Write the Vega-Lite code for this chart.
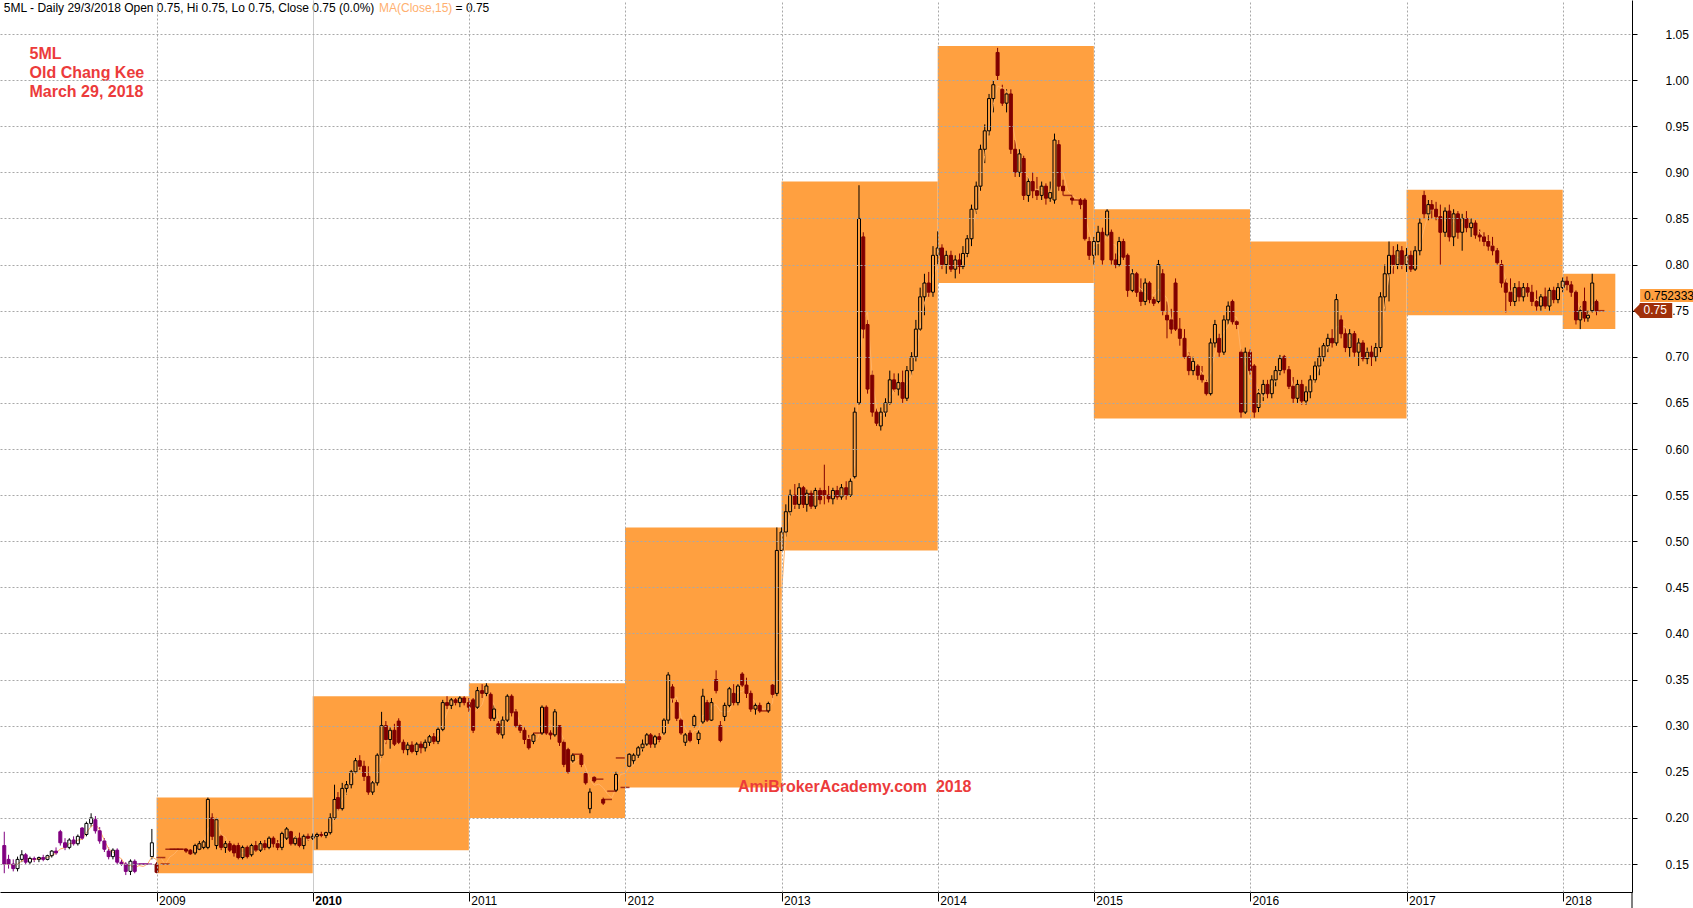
{
"$schema": "https://vega.github.io/schema/vega-lite/v6.json",
"width": 1632, "height": 892,
"autosize": {"type": "none"},
"padding": {"left": 0, "top": 0, "right": 61, "bottom": 16},
"background": "#ffffff",
"config": {"view": {"stroke": null}, "font": "Liberation Sans",
  "axis": {"labelFont": "Liberation Sans", "labelFontSize": 12, "labelColor": "#000000", "domainColor": "#000000", "tickColor": "#000000", "gridColor": "#A8A8A8", "gridDash": [2, 2]}},
"datasets": {
"boxes": [
{"d":"2009-01-01","d2":"2010-01-01","lo":0.14,"hi":0.222},
{"d":"2010-01-01","d2":"2011-01-01","lo":0.165,"hi":0.332},
{"d":"2011-01-01","d2":"2012-01-01","lo":0.2,"hi":0.346},
{"d":"2012-01-01","d2":"2013-01-01","lo":0.233,"hi":0.515},
{"d":"2013-01-01","d2":"2014-01-01","lo":0.49,"hi":0.89},
{"d":"2014-01-01","d2":"2015-01-01","lo":0.78,"hi":1.037},
{"d":"2015-01-01","d2":"2016-01-01","lo":0.633,"hi":0.86},
{"d":"2016-01-01","d2":"2017-01-01","lo":0.633,"hi":0.825},
{"d":"2017-01-01","d2":"2018-01-01","lo":0.745,"hi":0.881},
{"d":"2018-01-01","d2":"2018-05-04","lo":0.73,"hi":0.79}
],
"px": [
{"d":"2008-01-11","o":0.17,"h":0.185,"l":0.14,"c":0.15},
{"d":"2008-01-21","o":0.155,"h":0.16,"l":0.145,"c":0.15},
{"d":"2008-02-01","o":0.15,"h":0.155,"l":0.142,"c":0.145},
{"d":"2008-02-11","o":0.145,"h":0.158,"l":0.142,"c":0.155},
{"d":"2008-02-21","o":0.155,"h":0.165,"l":0.152,"c":0.16},
{"d":"2008-03-01","o":0.16,"h":0.162,"l":0.15,"c":0.152},
{"d":"2008-03-11","o":0.152,"h":0.158,"l":0.15,"c":0.156},
{"d":"2008-03-21","o":0.156,"h":0.158,"l":0.152,"c":0.155},
{"d":"2008-04-01","o":0.155,"h":0.158,"l":0.152,"c":0.157},
{"d":"2008-04-11","o":0.157,"h":0.16,"l":0.153,"c":0.155},
{"d":"2008-04-21","o":0.155,"h":0.16,"l":0.154,"c":0.159},
{"d":"2008-05-01","o":0.159,"h":0.165,"l":0.157,"c":0.164},
{"d":"2008-05-11","o":0.164,"h":0.168,"l":0.16,"c":0.162},
{"d":"2008-05-21","o":0.185,"h":0.187,"l":0.17,"c":0.173},
{"d":"2008-06-01","o":0.173,"h":0.178,"l":0.165,"c":0.168},
{"d":"2008-06-11","o":0.168,"h":0.178,"l":0.166,"c":0.176},
{"d":"2008-06-21","o":0.176,"h":0.18,"l":0.17,"c":0.172},
{"d":"2008-07-01","o":0.172,"h":0.182,"l":0.17,"c":0.18},
{"d":"2008-07-11","o":0.189,"h":0.19,"l":0.176,"c":0.178},
{"d":"2008-07-21","o":0.182,"h":0.196,"l":0.18,"c":0.194},
{"d":"2008-08-01","o":0.194,"h":0.205,"l":0.19,"c":0.2},
{"d":"2008-08-11","o":0.198,"h":0.202,"l":0.183,"c":0.186},
{"d":"2008-08-21","o":0.186,"h":0.19,"l":0.172,"c":0.175},
{"d":"2008-09-01","o":0.175,"h":0.178,"l":0.163,"c":0.166},
{"d":"2008-09-11","o":0.164,"h":0.168,"l":0.155,"c":0.158},
{"d":"2008-09-21","o":0.158,"h":0.167,"l":0.155,"c":0.165},
{"d":"2008-10-01","o":0.165,"h":0.167,"l":0.15,"c":0.152},
{"d":"2008-10-11","o":0.152,"h":0.155,"l":0.148,"c":0.15},
{"d":"2008-10-21","o":0.15,"h":0.152,"l":0.138,"c":0.142},
{"d":"2008-11-01","o":0.142,"h":0.155,"l":0.138,"c":0.153},
{"d":"2008-11-11","o":0.153,"h":0.155,"l":0.14,"c":0.142},
{"d":"2008-11-21","o":0.15,"h":0.15,"l":0.15,"c":0.15},
{"d":"2008-12-01","o":0.15,"h":0.15,"l":0.15,"c":0.15},
{"d":"2008-12-11","o":0.15,"h":0.15,"l":0.15,"c":0.15},
{"d":"2008-12-21","o":0.158,"h":0.188,"l":0.155,"c":0.173},
{"d":"2009-01-01","o":0.15,"h":0.152,"l":0.14,"c":0.141},
{"d":"2009-01-11","o":0.157,"h":0.157,"l":0.157,"c":0.157},
{"d":"2009-01-21","o":0.15,"h":0.15,"l":0.15,"c":0.15},
{"d":"2009-02-01","o":0.166,"h":0.166,"l":0.166,"c":0.166},
{"d":"2009-02-11","o":0.166,"h":0.166,"l":0.166,"c":0.166},
{"d":"2009-02-21","o":0.166,"h":0.166,"l":0.166,"c":0.166},
{"d":"2009-03-01","o":0.166,"h":0.166,"l":0.166,"c":0.166},
{"d":"2009-03-11","o":0.166,"h":0.167,"l":0.162,"c":0.164},
{"d":"2009-03-21","o":0.165,"h":0.166,"l":0.16,"c":0.161},
{"d":"2009-04-01","o":0.162,"h":0.172,"l":0.16,"c":0.17},
{"d":"2009-04-11","o":0.166,"h":0.175,"l":0.165,"c":0.172},
{"d":"2009-04-21","o":0.168,"h":0.176,"l":0.166,"c":0.174},
{"d":"2009-05-01","o":0.168,"h":0.222,"l":0.166,"c":0.22},
{"d":"2009-05-11","o":0.2,"h":0.205,"l":0.176,"c":0.18},
{"d":"2009-05-21","o":0.17,"h":0.2,"l":0.166,"c":0.198},
{"d":"2009-06-01","o":0.18,"h":0.182,"l":0.165,"c":0.168},
{"d":"2009-06-11","o":0.168,"h":0.175,"l":0.162,"c":0.172},
{"d":"2009-06-21","o":0.172,"h":0.175,"l":0.163,"c":0.165},
{"d":"2009-07-01","o":0.17,"h":0.172,"l":0.158,"c":0.162},
{"d":"2009-07-11","o":0.17,"h":0.173,"l":0.155,"c":0.157},
{"d":"2009-07-21","o":0.157,"h":0.17,"l":0.155,"c":0.168},
{"d":"2009-08-01","o":0.168,"h":0.17,"l":0.156,"c":0.158},
{"d":"2009-08-11","o":0.16,"h":0.172,"l":0.158,"c":0.17},
{"d":"2009-08-21","o":0.17,"h":0.175,"l":0.163,"c":0.165},
{"d":"2009-09-01","o":0.165,"h":0.175,"l":0.163,"c":0.172},
{"d":"2009-09-11","o":0.172,"h":0.176,"l":0.165,"c":0.168},
{"d":"2009-09-21","o":0.168,"h":0.18,"l":0.166,"c":0.178},
{"d":"2009-10-01","o":0.178,"h":0.18,"l":0.168,"c":0.172},
{"d":"2009-10-11","o":0.172,"h":0.176,"l":0.165,"c":0.168},
{"d":"2009-10-21","o":0.168,"h":0.185,"l":0.165,"c":0.183},
{"d":"2009-11-01","o":0.178,"h":0.19,"l":0.176,"c":0.188},
{"d":"2009-11-11","o":0.185,"h":0.186,"l":0.17,"c":0.172},
{"d":"2009-11-21","o":0.172,"h":0.18,"l":0.17,"c":0.178},
{"d":"2009-12-01","o":0.178,"h":0.184,"l":0.168,"c":0.17},
{"d":"2009-12-11","o":0.17,"h":0.182,"l":0.166,"c":0.18},
{"d":"2009-12-21","o":0.18,"h":0.183,"l":0.175,"c":0.178},
{"d":"2010-01-01","o":0.178,"h":0.183,"l":0.176,"c":0.18},
{"d":"2010-01-11","o":0.18,"h":0.184,"l":0.166,"c":0.182},
{"d":"2010-01-21","o":0.182,"h":0.185,"l":0.179,"c":0.181},
{"d":"2010-02-01","o":0.181,"h":0.185,"l":0.178,"c":0.184},
{"d":"2010-02-11","o":0.184,"h":0.205,"l":0.182,"c":0.2},
{"d":"2010-02-21","o":0.2,"h":0.236,"l":0.198,"c":0.22},
{"d":"2010-03-01","o":0.222,"h":0.228,"l":0.208,"c":0.21},
{"d":"2010-03-11","o":0.21,"h":0.238,"l":0.208,"c":0.232},
{"d":"2010-03-21","o":0.232,"h":0.24,"l":0.225,"c":0.236},
{"d":"2010-04-01","o":0.236,"h":0.252,"l":0.232,"c":0.25},
{"d":"2010-04-11","o":0.25,"h":0.265,"l":0.248,"c":0.262},
{"d":"2010-04-21","o":0.262,"h":0.268,"l":0.252,"c":0.256},
{"d":"2010-05-01","o":0.256,"h":0.262,"l":0.24,"c":0.245},
{"d":"2010-05-11","o":0.245,"h":0.256,"l":0.225,"c":0.228},
{"d":"2010-05-21","o":0.228,"h":0.24,"l":0.225,"c":0.238},
{"d":"2010-06-01","o":0.238,"h":0.27,"l":0.235,"c":0.268},
{"d":"2010-06-11","o":0.268,"h":0.315,"l":0.265,"c":0.3},
{"d":"2010-06-21","o":0.3,"h":0.305,"l":0.28,"c":0.285},
{"d":"2010-07-01","o":0.285,"h":0.298,"l":0.275,"c":0.295},
{"d":"2010-07-11","o":0.295,"h":0.302,"l":0.278,"c":0.28},
{"d":"2010-07-21","o":0.305,"h":0.308,"l":0.28,"c":0.282},
{"d":"2010-08-01","o":0.282,"h":0.285,"l":0.27,"c":0.274},
{"d":"2010-08-11","o":0.274,"h":0.282,"l":0.268,"c":0.279},
{"d":"2010-08-21","o":0.279,"h":0.283,"l":0.27,"c":0.272},
{"d":"2010-09-01","o":0.272,"h":0.282,"l":0.268,"c":0.28},
{"d":"2010-09-11","o":0.28,"h":0.283,"l":0.27,"c":0.276},
{"d":"2010-09-21","o":0.276,"h":0.285,"l":0.272,"c":0.282},
{"d":"2010-10-01","o":0.282,"h":0.29,"l":0.278,"c":0.288},
{"d":"2010-10-11","o":0.288,"h":0.292,"l":0.28,"c":0.283},
{"d":"2010-10-21","o":0.283,"h":0.298,"l":0.28,"c":0.296},
{"d":"2010-11-01","o":0.296,"h":0.328,"l":0.294,"c":0.325},
{"d":"2010-11-11","o":0.325,"h":0.332,"l":0.318,"c":0.322},
{"d":"2010-11-21","o":0.322,"h":0.33,"l":0.318,"c":0.328},
{"d":"2010-12-01","o":0.328,"h":0.33,"l":0.322,"c":0.325},
{"d":"2010-12-11","o":0.325,"h":0.332,"l":0.32,"c":0.33},
{"d":"2010-12-21","o":0.33,"h":0.332,"l":0.322,"c":0.325},
{"d":"2011-01-01","o":0.325,"h":0.33,"l":0.315,"c":0.32},
{"d":"2011-01-11","o":0.328,"h":0.33,"l":0.292,"c":0.295},
{"d":"2011-01-21","o":0.32,"h":0.342,"l":0.318,"c":0.338},
{"d":"2011-02-01","o":0.338,"h":0.345,"l":0.33,"c":0.335},
{"d":"2011-02-11","o":0.335,"h":0.346,"l":0.332,"c":0.343},
{"d":"2011-02-21","o":0.334,"h":0.336,"l":0.305,"c":0.308},
{"d":"2011-03-01","o":0.308,"h":0.322,"l":0.305,"c":0.318},
{"d":"2011-03-11","o":0.302,"h":0.305,"l":0.29,"c":0.292},
{"d":"2011-03-21","o":0.29,"h":0.31,"l":0.286,"c":0.306},
{"d":"2011-04-01","o":0.306,"h":0.334,"l":0.304,"c":0.332},
{"d":"2011-04-11","o":0.332,"h":0.334,"l":0.31,"c":0.314},
{"d":"2011-04-21","o":0.315,"h":0.318,"l":0.298,"c":0.3},
{"d":"2011-05-01","o":0.3,"h":0.302,"l":0.292,"c":0.295},
{"d":"2011-05-11","o":0.295,"h":0.298,"l":0.28,"c":0.285},
{"d":"2011-05-21","o":0.285,"h":0.29,"l":0.274,"c":0.276},
{"d":"2011-06-01","o":0.283,"h":0.292,"l":0.28,"c":0.29},
{"d":"2011-06-11","o":0.292,"h":0.292,"l":0.292,"c":0.292},
{"d":"2011-06-21","o":0.292,"h":0.322,"l":0.29,"c":0.32},
{"d":"2011-07-01","o":0.32,"h":0.322,"l":0.29,"c":0.292},
{"d":"2011-07-11","o":0.292,"h":0.295,"l":0.285,"c":0.29},
{"d":"2011-07-21","o":0.29,"h":0.318,"l":0.288,"c":0.315},
{"d":"2011-08-01","o":0.3,"h":0.3,"l":0.278,"c":0.282},
{"d":"2011-08-11","o":0.282,"h":0.285,"l":0.255,"c":0.258},
{"d":"2011-08-21","o":0.274,"h":0.276,"l":0.248,"c":0.25},
{"d":"2011-09-01","o":0.262,"h":0.27,"l":0.26,"c":0.268},
{"d":"2011-09-11","o":0.269,"h":0.269,"l":0.269,"c":0.269},
{"d":"2011-09-21","o":0.268,"h":0.27,"l":0.255,"c":0.258},
{"d":"2011-10-01","o":0.248,"h":0.25,"l":0.236,"c":0.238},
{"d":"2011-10-11","o":0.21,"h":0.232,"l":0.205,"c":0.228},
{"d":"2011-10-21","o":0.244,"h":0.245,"l":0.238,"c":0.24},
{"d":"2011-11-01","o":0.242,"h":0.242,"l":0.242,"c":0.242},
{"d":"2011-11-11","o":0.22,"h":0.222,"l":0.214,"c":0.216},
{"d":"2011-11-21","o":0.22,"h":0.22,"l":0.22,"c":0.22},
{"d":"2011-12-01","o":0.229,"h":0.229,"l":0.229,"c":0.229},
{"d":"2011-12-11","o":0.23,"h":0.25,"l":0.228,"c":0.247},
{"d":"2011-12-21","o":0.265,"h":0.265,"l":0.265,"c":0.265},
{"d":"2012-01-01","o":0.233,"h":0.233,"l":0.233,"c":0.233},
{"d":"2012-01-11","o":0.256,"h":0.27,"l":0.255,"c":0.269},
{"d":"2012-01-21","o":0.262,"h":0.27,"l":0.258,"c":0.268},
{"d":"2012-02-01","o":0.268,"h":0.278,"l":0.265,"c":0.276},
{"d":"2012-02-11","o":0.276,"h":0.285,"l":0.272,"c":0.28},
{"d":"2012-02-21","o":0.28,"h":0.292,"l":0.278,"c":0.29},
{"d":"2012-03-01","o":0.29,"h":0.292,"l":0.276,"c":0.28},
{"d":"2012-03-11","o":0.28,"h":0.29,"l":0.276,"c":0.288},
{"d":"2012-03-21","o":0.288,"h":0.292,"l":0.282,"c":0.285},
{"d":"2012-04-01","o":0.292,"h":0.308,"l":0.29,"c":0.306},
{"d":"2012-04-11","o":0.306,"h":0.358,"l":0.302,"c":0.355},
{"d":"2012-04-21","o":0.342,"h":0.345,"l":0.325,"c":0.33},
{"d":"2012-05-01","o":0.325,"h":0.328,"l":0.305,"c":0.308},
{"d":"2012-05-11","o":0.306,"h":0.308,"l":0.29,"c":0.292},
{"d":"2012-05-21","o":0.282,"h":0.292,"l":0.278,"c":0.29},
{"d":"2012-06-01","o":0.292,"h":0.295,"l":0.282,"c":0.284},
{"d":"2012-06-11","o":0.3,"h":0.312,"l":0.298,"c":0.31},
{"d":"2012-06-21","o":0.285,"h":0.295,"l":0.28,"c":0.292},
{"d":"2012-07-01","o":0.304,"h":0.34,"l":0.302,"c":0.332},
{"d":"2012-07-11","o":0.325,"h":0.328,"l":0.304,"c":0.306},
{"d":"2012-07-21","o":0.306,"h":0.33,"l":0.305,"c":0.325},
{"d":"2012-08-01","o":0.35,"h":0.36,"l":0.335,"c":0.338},
{"d":"2012-08-11","o":0.3,"h":0.305,"l":0.282,"c":0.284},
{"d":"2012-08-21","o":0.31,"h":0.325,"l":0.305,"c":0.322},
{"d":"2012-09-01","o":0.322,"h":0.342,"l":0.32,"c":0.34},
{"d":"2012-09-11","o":0.335,"h":0.345,"l":0.322,"c":0.325},
{"d":"2012-09-21","o":0.325,"h":0.345,"l":0.322,"c":0.343},
{"d":"2012-10-01","o":0.356,"h":0.358,"l":0.342,"c":0.344},
{"d":"2012-10-11","o":0.344,"h":0.352,"l":0.33,"c":0.335},
{"d":"2012-10-21","o":0.335,"h":0.338,"l":0.315,"c":0.318},
{"d":"2012-11-01","o":0.318,"h":0.325,"l":0.312,"c":0.322},
{"d":"2012-11-11","o":0.322,"h":0.325,"l":0.314,"c":0.316},
{"d":"2012-11-21","o":0.316,"h":0.316,"l":0.316,"c":0.316},
{"d":"2012-12-01","o":0.316,"h":0.326,"l":0.314,"c":0.324},
{"d":"2012-12-11","o":0.344,"h":0.345,"l":0.33,"c":0.334},
{"d":"2012-12-21","o":0.335,"h":0.515,"l":0.332,"c":0.49},
{"d":"2013-01-01","o":0.49,"h":0.515,"l":0.49,"c":0.51},
{"d":"2013-01-11","o":0.51,"h":0.54,"l":0.505,"c":0.532},
{"d":"2013-01-21","o":0.532,"h":0.556,"l":0.528,"c":0.55},
{"d":"2013-02-01","o":0.55,"h":0.562,"l":0.535,"c":0.54},
{"d":"2013-02-11","o":0.54,"h":0.563,"l":0.535,"c":0.558},
{"d":"2013-02-21","o":0.558,"h":0.56,"l":0.536,"c":0.54},
{"d":"2013-03-01","o":0.54,"h":0.556,"l":0.532,"c":0.552},
{"d":"2013-03-11","o":0.552,"h":0.555,"l":0.535,"c":0.538},
{"d":"2013-03-21","o":0.538,"h":0.558,"l":0.535,"c":0.555},
{"d":"2013-04-01","o":0.555,"h":0.558,"l":0.54,"c":0.545},
{"d":"2013-04-11","o":0.555,"h":0.583,"l":0.54,"c":0.55},
{"d":"2013-04-21","o":0.55,"h":0.56,"l":0.542,"c":0.546},
{"d":"2013-05-01","o":0.546,"h":0.558,"l":0.54,"c":0.555},
{"d":"2013-05-11","o":0.555,"h":0.56,"l":0.545,"c":0.548},
{"d":"2013-05-21","o":0.548,"h":0.562,"l":0.545,"c":0.558},
{"d":"2013-06-01","o":0.558,"h":0.565,"l":0.545,"c":0.55},
{"d":"2013-06-11","o":0.55,"h":0.568,"l":0.548,"c":0.565},
{"d":"2013-06-21","o":0.57,"h":0.645,"l":0.568,"c":0.64},
{"d":"2013-07-01","o":0.65,"h":0.886,"l":0.648,"c":0.85},
{"d":"2013-07-11","o":0.83,"h":0.835,"l":0.72,"c":0.73},
{"d":"2013-07-21","o":0.735,"h":0.74,"l":0.66,"c":0.665},
{"d":"2013-08-01","o":0.68,"h":0.685,"l":0.635,"c":0.64},
{"d":"2013-08-11","o":0.64,"h":0.645,"l":0.625,"c":0.628},
{"d":"2013-08-21","o":0.625,"h":0.645,"l":0.62,"c":0.64},
{"d":"2013-09-01","o":0.64,"h":0.655,"l":0.635,"c":0.65},
{"d":"2013-09-11","o":0.65,"h":0.685,"l":0.648,"c":0.675},
{"d":"2013-09-21","o":0.675,"h":0.682,"l":0.662,"c":0.665},
{"d":"2013-10-01","o":0.665,"h":0.682,"l":0.658,"c":0.672},
{"d":"2013-10-11","o":0.672,"h":0.685,"l":0.65,"c":0.655},
{"d":"2013-10-21","o":0.655,"h":0.69,"l":0.652,"c":0.685},
{"d":"2013-11-01","o":0.685,"h":0.705,"l":0.68,"c":0.7},
{"d":"2013-11-11","o":0.7,"h":0.74,"l":0.695,"c":0.73},
{"d":"2013-11-21","o":0.73,"h":0.775,"l":0.728,"c":0.765},
{"d":"2013-12-01","o":0.765,"h":0.79,"l":0.745,"c":0.78},
{"d":"2013-12-11","o":0.78,"h":0.792,"l":0.765,"c":0.77},
{"d":"2013-12-21","o":0.77,"h":0.82,"l":0.765,"c":0.81},
{"d":"2014-01-01","o":0.81,"h":0.836,"l":0.8,"c":0.818},
{"d":"2014-01-11","o":0.818,"h":0.822,"l":0.795,"c":0.8},
{"d":"2014-01-21","o":0.8,"h":0.815,"l":0.79,"c":0.81},
{"d":"2014-02-01","o":0.81,"h":0.815,"l":0.792,"c":0.795},
{"d":"2014-02-11","o":0.795,"h":0.81,"l":0.785,"c":0.805},
{"d":"2014-02-21","o":0.805,"h":0.812,"l":0.79,"c":0.798},
{"d":"2014-03-01","o":0.798,"h":0.82,"l":0.795,"c":0.812},
{"d":"2014-03-11","o":0.812,"h":0.832,"l":0.808,"c":0.828},
{"d":"2014-03-21","o":0.828,"h":0.865,"l":0.82,"c":0.86},
{"d":"2014-04-01","o":0.86,"h":0.89,"l":0.855,"c":0.885},
{"d":"2014-04-11","o":0.885,"h":0.93,"l":0.88,"c":0.925},
{"d":"2014-04-21","o":0.925,"h":0.952,"l":0.91,"c":0.945},
{"d":"2014-05-01","o":0.945,"h":0.985,"l":0.94,"c":0.98},
{"d":"2014-05-11","o":0.98,"h":1.0,"l":0.965,"c":0.995},
{"d":"2014-05-21","o":1.03,"h":1.035,"l":1.0,"c":1.005},
{"d":"2014-06-01","o":0.99,"h":0.995,"l":0.972,"c":0.975},
{"d":"2014-06-11","o":0.975,"h":0.99,"l":0.965,"c":0.985},
{"d":"2014-06-21","o":0.985,"h":0.99,"l":0.92,"c":0.925},
{"d":"2014-07-01","o":0.925,"h":0.935,"l":0.895,"c":0.9},
{"d":"2014-07-11","o":0.9,"h":0.925,"l":0.895,"c":0.92},
{"d":"2014-07-21","o":0.915,"h":0.918,"l":0.87,"c":0.875},
{"d":"2014-08-01","o":0.875,"h":0.895,"l":0.868,"c":0.89},
{"d":"2014-08-11","o":0.89,"h":0.9,"l":0.872,"c":0.88},
{"d":"2014-08-21","o":0.88,"h":0.895,"l":0.87,"c":0.875},
{"d":"2014-09-01","o":0.875,"h":0.89,"l":0.87,"c":0.885},
{"d":"2014-09-11","o":0.885,"h":0.888,"l":0.865,"c":0.872},
{"d":"2014-09-21","o":0.872,"h":0.89,"l":0.868,"c":0.878},
{"d":"2014-10-01","o":0.87,"h":0.942,"l":0.866,"c":0.935},
{"d":"2014-10-11","o":0.93,"h":0.935,"l":0.88,"c":0.885},
{"d":"2014-10-21","o":0.885,"h":0.892,"l":0.875,"c":0.88},
{"d":"2014-11-01","o":0.875,"h":0.875,"l":0.875,"c":0.875},
{"d":"2014-11-11","o":0.872,"h":0.875,"l":0.865,"c":0.87},
{"d":"2014-11-21","o":0.87,"h":0.87,"l":0.87,"c":0.87},
{"d":"2014-12-01","o":0.87,"h":0.872,"l":0.86,"c":0.865},
{"d":"2014-12-11","o":0.87,"h":0.872,"l":0.826,"c":0.828},
{"d":"2014-12-21","o":0.825,"h":0.83,"l":0.805,"c":0.81},
{"d":"2015-01-01","o":0.81,"h":0.83,"l":0.8,"c":0.825},
{"d":"2015-01-11","o":0.825,"h":0.842,"l":0.81,"c":0.835},
{"d":"2015-01-21","o":0.835,"h":0.84,"l":0.8,"c":0.805},
{"d":"2015-02-01","o":0.832,"h":0.86,"l":0.83,"c":0.858},
{"d":"2015-02-11","o":0.835,"h":0.838,"l":0.8,"c":0.805},
{"d":"2015-02-21","o":0.805,"h":0.812,"l":0.796,"c":0.8},
{"d":"2015-03-01","o":0.8,"h":0.83,"l":0.798,"c":0.825},
{"d":"2015-03-11","o":0.825,"h":0.828,"l":0.805,"c":0.808},
{"d":"2015-03-21","o":0.81,"h":0.812,"l":0.765,"c":0.772},
{"d":"2015-04-01","o":0.772,"h":0.795,"l":0.77,"c":0.79},
{"d":"2015-04-11","o":0.79,"h":0.792,"l":0.765,"c":0.77},
{"d":"2015-04-21","o":0.77,"h":0.785,"l":0.755,"c":0.76},
{"d":"2015-05-01","o":0.76,"h":0.785,"l":0.756,"c":0.78},
{"d":"2015-05-11","o":0.78,"h":0.782,"l":0.758,"c":0.762},
{"d":"2015-05-21","o":0.762,"h":0.765,"l":0.755,"c":0.758},
{"d":"2015-06-01","o":0.76,"h":0.805,"l":0.758,"c":0.8},
{"d":"2015-06-11","o":0.79,"h":0.795,"l":0.745,"c":0.75},
{"d":"2015-06-21","o":0.745,"h":0.76,"l":0.72,"c":0.74},
{"d":"2015-07-01","o":0.74,"h":0.752,"l":0.725,"c":0.73},
{"d":"2015-07-11","o":0.78,"h":0.785,"l":0.728,"c":0.73},
{"d":"2015-07-21","o":0.73,"h":0.742,"l":0.712,"c":0.72},
{"d":"2015-08-01","o":0.72,"h":0.73,"l":0.698,"c":0.7},
{"d":"2015-08-11","o":0.7,"h":0.705,"l":0.68,"c":0.685},
{"d":"2015-08-21","o":0.685,"h":0.7,"l":0.68,"c":0.695},
{"d":"2015-09-01","o":0.69,"h":0.692,"l":0.675,"c":0.68},
{"d":"2015-09-11","o":0.68,"h":0.69,"l":0.672,"c":0.675},
{"d":"2015-09-21","o":0.672,"h":0.675,"l":0.658,"c":0.66},
{"d":"2015-10-01","o":0.66,"h":0.72,"l":0.658,"c":0.715},
{"d":"2015-10-11","o":0.715,"h":0.74,"l":0.71,"c":0.735},
{"d":"2015-10-21","o":0.72,"h":0.725,"l":0.7,"c":0.705},
{"d":"2015-11-01","o":0.705,"h":0.745,"l":0.702,"c":0.74},
{"d":"2015-11-11","o":0.74,"h":0.76,"l":0.735,"c":0.755},
{"d":"2015-11-21","o":0.76,"h":0.762,"l":0.735,"c":0.738},
{"d":"2015-12-01","o":0.738,"h":0.74,"l":0.73,"c":0.735},
{"d":"2015-12-11","o":0.705,"h":0.708,"l":0.634,"c":0.64},
{"d":"2015-12-21","o":0.64,"h":0.71,"l":0.638,"c":0.705},
{"d":"2016-01-01","o":0.705,"h":0.708,"l":0.68,"c":0.685},
{"d":"2016-01-11","o":0.69,"h":0.692,"l":0.634,"c":0.64},
{"d":"2016-01-21","o":0.645,"h":0.665,"l":0.64,"c":0.66},
{"d":"2016-02-01","o":0.66,"h":0.675,"l":0.652,"c":0.67},
{"d":"2016-02-11","o":0.67,"h":0.675,"l":0.655,"c":0.66},
{"d":"2016-02-21","o":0.66,"h":0.68,"l":0.655,"c":0.675},
{"d":"2016-03-01","o":0.675,"h":0.69,"l":0.668,"c":0.685},
{"d":"2016-03-11","o":0.685,"h":0.702,"l":0.68,"c":0.698},
{"d":"2016-03-21","o":0.7,"h":0.702,"l":0.682,"c":0.686},
{"d":"2016-04-01","o":0.686,"h":0.69,"l":0.665,"c":0.668},
{"d":"2016-04-11","o":0.668,"h":0.678,"l":0.65,"c":0.655},
{"d":"2016-04-21","o":0.655,"h":0.675,"l":0.65,"c":0.67},
{"d":"2016-05-01","o":0.67,"h":0.675,"l":0.648,"c":0.652},
{"d":"2016-05-11","o":0.652,"h":0.668,"l":0.648,"c":0.662},
{"d":"2016-05-21","o":0.662,"h":0.68,"l":0.655,"c":0.675},
{"d":"2016-06-01","o":0.675,"h":0.695,"l":0.672,"c":0.69},
{"d":"2016-06-11","o":0.69,"h":0.71,"l":0.68,"c":0.7},
{"d":"2016-06-21","o":0.7,"h":0.715,"l":0.695,"c":0.712},
{"d":"2016-07-01","o":0.712,"h":0.725,"l":0.705,"c":0.72},
{"d":"2016-07-11","o":0.72,"h":0.73,"l":0.71,"c":0.715},
{"d":"2016-07-21","o":0.715,"h":0.768,"l":0.712,"c":0.762},
{"d":"2016-08-01","o":0.74,"h":0.745,"l":0.72,"c":0.725},
{"d":"2016-08-11","o":0.725,"h":0.732,"l":0.705,"c":0.71},
{"d":"2016-08-21","o":0.71,"h":0.73,"l":0.7,"c":0.725},
{"d":"2016-09-01","o":0.725,"h":0.728,"l":0.7,"c":0.705},
{"d":"2016-09-11","o":0.705,"h":0.72,"l":0.69,"c":0.715},
{"d":"2016-09-21","o":0.715,"h":0.718,"l":0.695,"c":0.698},
{"d":"2016-10-01","o":0.698,"h":0.71,"l":0.692,"c":0.705},
{"d":"2016-10-11","o":0.705,"h":0.712,"l":0.69,"c":0.7},
{"d":"2016-10-21","o":0.7,"h":0.715,"l":0.695,"c":0.71},
{"d":"2016-11-01","o":0.71,"h":0.77,"l":0.705,"c":0.765},
{"d":"2016-11-11","o":0.765,"h":0.8,"l":0.75,"c":0.79},
{"d":"2016-11-21","o":0.79,"h":0.825,"l":0.76,"c":0.81},
{"d":"2016-12-01","o":0.81,"h":0.82,"l":0.79,"c":0.8},
{"d":"2016-12-11","o":0.8,"h":0.822,"l":0.795,"c":0.815},
{"d":"2016-12-21","o":0.815,"h":0.82,"l":0.795,"c":0.8},
{"d":"2017-01-01","o":0.8,"h":0.818,"l":0.792,"c":0.81},
{"d":"2017-01-11","o":0.81,"h":0.815,"l":0.792,"c":0.795},
{"d":"2017-01-21","o":0.795,"h":0.82,"l":0.793,"c":0.815},
{"d":"2017-02-01","o":0.815,"h":0.85,"l":0.81,"c":0.845},
{"d":"2017-02-11","o":0.875,"h":0.88,"l":0.85,"c":0.855},
{"d":"2017-02-21","o":0.855,"h":0.87,"l":0.848,"c":0.865},
{"d":"2017-03-01","o":0.865,"h":0.87,"l":0.85,"c":0.86},
{"d":"2017-03-11","o":0.86,"h":0.868,"l":0.848,"c":0.852},
{"d":"2017-03-21","o":0.852,"h":0.865,"l":0.8,"c":0.835},
{"d":"2017-04-01","o":0.835,"h":0.862,"l":0.83,"c":0.858},
{"d":"2017-04-11","o":0.858,"h":0.865,"l":0.825,"c":0.83},
{"d":"2017-04-21","o":0.83,"h":0.86,"l":0.82,"c":0.855},
{"d":"2017-05-01","o":0.855,"h":0.858,"l":0.828,"c":0.835},
{"d":"2017-05-11","o":0.835,"h":0.855,"l":0.815,"c":0.85},
{"d":"2017-05-21","o":0.85,"h":0.858,"l":0.835,"c":0.84},
{"d":"2017-06-01","o":0.84,"h":0.85,"l":0.83,"c":0.845},
{"d":"2017-06-11","o":0.845,"h":0.848,"l":0.828,"c":0.832},
{"d":"2017-06-21","o":0.832,"h":0.838,"l":0.825,"c":0.83},
{"d":"2017-07-01","o":0.83,"h":0.835,"l":0.82,"c":0.825},
{"d":"2017-07-11","o":0.825,"h":0.832,"l":0.815,"c":0.82},
{"d":"2017-07-21","o":0.82,"h":0.83,"l":0.81,"c":0.815},
{"d":"2017-08-01","o":0.815,"h":0.818,"l":0.8,"c":0.802},
{"d":"2017-08-11","o":0.8,"h":0.805,"l":0.775,"c":0.78},
{"d":"2017-08-21","o":0.78,"h":0.785,"l":0.748,"c":0.77},
{"d":"2017-09-01","o":0.77,"h":0.785,"l":0.755,"c":0.76},
{"d":"2017-09-11","o":0.76,"h":0.78,"l":0.755,"c":0.775},
{"d":"2017-09-21","o":0.775,"h":0.782,"l":0.76,"c":0.765},
{"d":"2017-10-01","o":0.765,"h":0.78,"l":0.76,"c":0.775},
{"d":"2017-10-11","o":0.775,"h":0.78,"l":0.765,"c":0.77},
{"d":"2017-10-21","o":0.77,"h":0.778,"l":0.755,"c":0.76},
{"d":"2017-11-01","o":0.76,"h":0.772,"l":0.75,"c":0.755},
{"d":"2017-11-11","o":0.755,"h":0.768,"l":0.75,"c":0.765},
{"d":"2017-11-21","o":0.765,"h":0.775,"l":0.752,"c":0.755},
{"d":"2017-12-01","o":0.755,"h":0.775,"l":0.75,"c":0.772},
{"d":"2017-12-11","o":0.772,"h":0.776,"l":0.758,"c":0.762},
{"d":"2017-12-21","o":0.762,"h":0.78,"l":0.758,"c":0.775},
{"d":"2018-01-01","o":0.775,"h":0.786,"l":0.77,"c":0.782},
{"d":"2018-01-11","o":0.782,"h":0.787,"l":0.772,"c":0.778},
{"d":"2018-01-21","o":0.778,"h":0.782,"l":0.765,"c":0.77},
{"d":"2018-02-01","o":0.77,"h":0.772,"l":0.735,"c":0.74},
{"d":"2018-02-11","o":0.74,"h":0.755,"l":0.73,"c":0.75},
{"d":"2018-02-21","o":0.76,"h":0.775,"l":0.738,"c":0.742},
{"d":"2018-03-01","o":0.742,"h":0.75,"l":0.738,"c":0.745},
{"d":"2018-03-11","o":0.75,"h":0.79,"l":0.748,"c":0.78},
{"d":"2018-03-21","o":0.76,"h":0.762,"l":0.745,"c":0.75},
{"d":"2018-03-29","o":0.75,"h":0.75,"l":0.75,"c":0.75}
]
},
"resolve": {"axis": {"x": "independent", "y": "independent"}},
"layer": [
{
 "data": {"name": "boxes"},
 "mark": {"type": "rect", "color": "#FFA040"},
 "encoding": {
  "x": {"field": "d", "type": "temporal", "title": null,
   "scale": {"type": "utc", "padding": 0, "domain": [{"year": 2008, "month": 1, "date": 1, "utc": true}, {"year": 2018, "month": 6, "date": 12, "utc": true}]},
   "axis": {"orient": "top", "grid": true, "labels": false, "ticks": false, "domain": false, "zindex": 1,
    "gridDash": {"condition": {"test": "utcyear(datum.value) == 2010", "value": [1, 0]}, "value": [2, 2]},
    "gridColor": {"condition": {"test": "utcyear(datum.value) == 2010", "value": "#B8B8B8"}, "value": "#A8A8A8"},
    "values": [{"year":2009,"month":1,"date":1,"utc":true},{"year":2010,"month":1,"date":1,"utc":true},{"year":2011,"month":1,"date":1,"utc":true},{"year":2012,"month":1,"date":1,"utc":true},{"year":2013,"month":1,"date":1,"utc":true},{"year":2014,"month":1,"date":1,"utc":true},{"year":2015,"month":1,"date":1,"utc":true},{"year":2016,"month":1,"date":1,"utc":true},{"year":2017,"month":1,"date":1,"utc":true},{"year":2018,"month":1,"date":1,"utc":true}]}},
  "x2": {"field": "d2"},
  "y": {"field": "lo", "type": "quantitative", "title": null,
   "scale": {"domain": [0.11964, 1.08687], "nice": false, "zero": false, "padding": 0},
   "axis": {"orient": "left", "grid": true, "labels": false, "ticks": false, "domain": false, "zindex": 1,
    "values": [0.15,0.2,0.25,0.3,0.35,0.4,0.45,0.5,0.55,0.6,0.65,0.7,0.75,0.8,0.85,0.9,0.95,1.0,1.05]}},
  "y2": {"field": "hi"}
 }
},
{
 "layer": [
 {
  "data": {"name": "px"},
  "mark": {"type": "rule", "strokeWidth": 1},
  "encoding": {
   "x": {"field": "d", "type": "temporal", "title": null,
    "axis": {"orient": "bottom", "grid": false, "zindex": 0, "format": "%Y", "labelAlign": "left", "labelBaseline": "top", "labelPadding": -6, "labelOffset": 2, "tickSize": 9, "labelFontSize": 12,
     "labelFontWeight": {"condition": {"test": "utcyear(datum.value) == 2010", "value": "bold"}, "value": "normal"},
     "values": [{"year":2009,"month":1,"date":1,"utc":true},{"year":2010,"month":1,"date":1,"utc":true},{"year":2011,"month":1,"date":1,"utc":true},{"year":2012,"month":1,"date":1,"utc":true},{"year":2013,"month":1,"date":1,"utc":true},{"year":2014,"month":1,"date":1,"utc":true},{"year":2015,"month":1,"date":1,"utc":true},{"year":2016,"month":1,"date":1,"utc":true},{"year":2017,"month":1,"date":1,"utc":true},{"year":2018,"month":1,"date":1,"utc":true}]}},
   "y": {"field": "l", "type": "quantitative", "title": null,
    "axis": {"orient": "right", "grid": false, "zindex": 0, "format": ".2f", "labelAlign": "left", "labelBaseline": "middle", "labelPadding": 28, "tickSize": 5,
     "values": [0.15,0.2,0.25,0.3,0.35,0.4,0.45,0.5,0.55,0.6,0.65,0.7,0.75,0.8,0.85,0.9,0.95,1.0,1.05]}},
   "y2": {"field": "o"},
   "color": {"condition": [{"test": "datum.c > datum.o", "value": "#000000"}, {"test": "utcyear(datum.d) < 2009", "value": "#800080"}], "value": "#800000"}
  }
 },
 {
  "data": {"name": "px"},
  "mark": {"type": "rule", "strokeWidth": 1},
  "encoding": {
   "x": {"field": "d", "type": "temporal", "title": null},
   "y": {"field": "c", "type": "quantitative", "title": null},
   "y2": {"field": "h"},
   "color": {"condition": [{"test": "datum.c > datum.o", "value": "#000000"}, {"test": "utcyear(datum.d) < 2009", "value": "#800080"}], "value": "#800000"}
  }
 },
 {
  "data": {"name": "px"},
  "transform": [{"window": [{"op": "mean", "field": "c", "as": "ma"}], "sort": [{"field": "d"}], "frame": [-2, 0]}],
  "mark": {"type": "line", "color": "#FFB266", "strokeWidth": 1},
  "encoding": {
   "x": {"field": "d", "type": "temporal", "title": null},
   "y": {"field": "ma", "type": "quantitative", "title": null}
  }
 },
 {
  "data": {"name": "px"},
  "transform": [{"filter": "datum.o != datum.c"}],
  "mark": {"type": "bar", "width": 3, "strokeWidth": 1},
  "encoding": {
   "x": {"field": "d", "type": "temporal", "title": null},
   "y": {"field": "o", "type": "quantitative", "title": null},
   "y2": {"field": "c"},
   "fill": {"condition": [{"test": "datum.c > datum.o", "value": "transparent"}, {"test": "utcyear(datum.d) < 2009", "value": "#800080"}], "value": "#800000"},
   "stroke": {"condition": [{"test": "datum.c > datum.o", "value": "#000000"}, {"test": "utcyear(datum.d) < 2009", "value": "#800080"}], "value": "#800000"}
  }
 },
 {
  "data": {"name": "px"},
  "transform": [{"filter": "datum.o == datum.c"}],
  "mark": {"type": "tick", "orient": "horizontal", "size": 9, "thickness": 1.5},
  "encoding": {
   "x": {"field": "d", "type": "temporal", "title": null},
   "y": {"field": "c", "type": "quantitative", "title": null},
   "color": {"condition": {"test": "utcyear(datum.d) < 2009", "value": "#800080"}, "value": "#800000"}
  }
 },
 {
  "data": {"values": [{"d": "2018-06-12", "v": 0.1, "v2": 0.11964}]},
  "mark": {"type": "rule", "color": "#000000", "strokeWidth": 1},
  "encoding": {"x": {"field": "d", "type": "temporal", "title": null}, "y": {"field": "v", "type": "quantitative", "title": null}, "y2": {"field": "v2"}}
 },
 {
  "data": {"values": [{"d": "2008-01-10", "v": 1.0787, "t": "5ML - Daily 29/3/2018 Open 0.75, Hi 0.75, Lo 0.75, Close 0.75 (0.0%)"}]},
  "mark": {"type": "text", "align": "left", "baseline": "middle", "fontSize": 12, "color": "#000000", "font": "Liberation Sans"},
  "encoding": {"x": {"field": "d", "type": "temporal", "title": null}, "y": {"field": "v", "type": "quantitative", "title": null}, "text": {"field": "t"}}
 },
 {
  "data": {"values": [{"d": "2010-06-05", "v": 1.0787, "t": "MA(Close,15)"}]},
  "mark": {"type": "text", "align": "left", "baseline": "middle", "fontSize": 12, "color": "#FFB070", "font": "Liberation Sans"},
  "encoding": {"x": {"field": "d", "type": "temporal", "title": null}, "y": {"field": "v", "type": "quantitative", "title": null}, "text": {"field": "t"}}
 },
 {
  "data": {"values": [{"d": "2010-12-01", "v": 1.0787, "t": "= 0.75"}]},
  "mark": {"type": "text", "align": "left", "baseline": "middle", "fontSize": 12, "color": "#000000", "font": "Liberation Sans"},
  "encoding": {"x": {"field": "d", "type": "temporal", "title": null}, "y": {"field": "v", "type": "quantitative", "title": null}, "text": {"field": "t"}}
 },
 {
  "data": {"values": [
   {"d": "2008-03-10", "v": 1.0283, "t": "5ML"},
   {"d": "2008-03-10", "v": 1.0077, "t": "Old Chang Kee"},
   {"d": "2008-03-10", "v": 0.9871, "t": "March 29, 2018"}]},
  "mark": {"type": "text", "align": "left", "baseline": "middle", "fontSize": 16, "fontWeight": "bold", "color": "#EC3B3B", "font": "Liberation Sans"},
  "encoding": {"x": {"field": "d", "type": "temporal", "title": null}, "y": {"field": "v", "type": "quantitative", "title": null}, "text": {"field": "t"}}
 },
 {
  "data": {"values": [{"d": "2012-09-21", "v": 0.2333, "t": "AmiBrokerAcademy.com\u00a0\u00a02018"}]},
  "mark": {"type": "text", "align": "left", "baseline": "middle", "fontSize": 16, "fontWeight": "bold", "color": "#EC3B3B", "font": "Liberation Sans"},
  "encoding": {"x": {"field": "d", "type": "temporal", "title": null}, "y": {"field": "v", "type": "quantitative", "title": null}, "text": {"field": "t"}}
 },
 {
  "data": {"values": [{"d": "2018-07-01", "d2": "2018-12-31", "lo": 0.7593, "hi": 0.7734}]},
  "mark": {"type": "rect", "color": "#FFA040"},
  "encoding": {"x": {"field": "d", "type": "temporal", "title": null}, "x2": {"field": "d2"}, "y": {"field": "lo", "type": "quantitative", "title": null}, "y2": {"field": "hi"}}
 },
 {
  "data": {"values": [{"d": "2018-06-30", "d2": "2018-09-14", "lo": 0.742, "hi": 0.7583}]},
  "mark": {"type": "rect", "color": "#A0300A"},
  "encoding": {"x": {"field": "d", "type": "temporal", "title": null}, "x2": {"field": "d2"}, "y": {"field": "lo", "type": "quantitative", "title": null}, "y2": {"field": "hi"}}
 },
 {
  "data": {"values": [{"d": "2018-06-24", "v": 0.7502}]},
  "mark": {"type": "point", "shape": "M0.5,-1L-0.5,0L0.5,1Z", "size": 225, "filled": true, "opacity": 1, "color": "#A0300A"},
  "encoding": {"x": {"field": "d", "type": "temporal", "title": null}, "y": {"field": "v", "type": "quantitative", "title": null}}
 },
 {
  "data": {"values": [{"d": "2018-07-10", "v": 0.7664, "t": "0.752333"}]},
  "mark": {"type": "text", "align": "left", "baseline": "middle", "fontSize": 12, "color": "#000000", "font": "Liberation Sans"},
  "encoding": {"x": {"field": "d", "type": "temporal", "title": null}, "y": {"field": "v", "type": "quantitative", "title": null}, "text": {"field": "t"}}
 },
 {
  "data": {"values": [{"d": "2018-07-09", "v": 0.7502, "t": "0.75"}]},
  "mark": {"type": "text", "align": "left", "baseline": "middle", "fontSize": 12, "color": "#FFFFFF", "font": "Liberation Sans"},
  "encoding": {"x": {"field": "d", "type": "temporal", "title": null}, "y": {"field": "v", "type": "quantitative", "title": null}, "text": {"field": "t"}}
 }
 ]
}
]
}
